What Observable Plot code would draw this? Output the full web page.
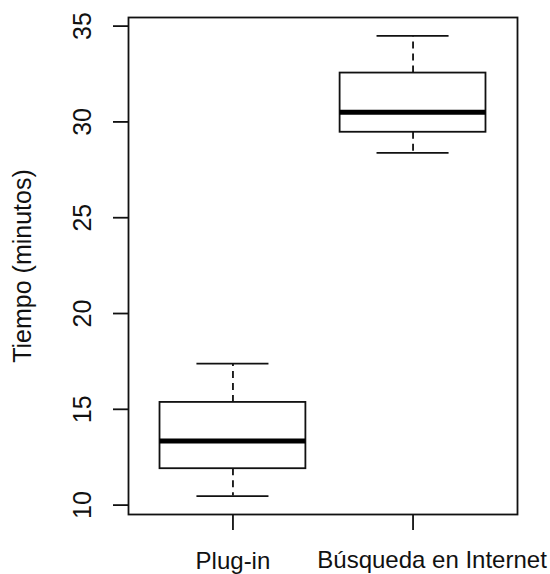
<!DOCTYPE html>
<html>
<head>
<meta charset="utf-8">
<script src="https://cdn.jsdelivr.net/npm/d3@7"></script>
<script src="https://cdn.jsdelivr.net/npm/@observablehq/plot@0.6"></script>
<style>
  html, body { margin: 0; padding: 0; background: #fff; }
  #chart svg { display: block; }
</style>
</head>
<body>
<div id="chart"></div>
<script>
// Data
const groups = ["Plug-in", "Búsqueda en Internet"];
const lowerWhisker = [10.47, 28.38];
const q1 = [11.9, 29.46];
const medians = [13.35, 30.51];
const q3 = [15.36, 32.55];
const upperWhisker = [17.38, 34.49];
const yTicks = [10, 15, 20, 25, 30, 35];
const yLabel = "Tiempo (minutos)";

const rows = groups.map((g, i) => ({
  name: g, pos: i + 1,
  lo: lowerWhisker[i], q1: q1[i], med: medians[i], q3: q3[i], hi: upperWhisker[i]
}));

const ink = "#111";
const font = "Liberation Sans, Arial, sans-serif";
const fsY = 25;
const fsX = 24;

const chart = Plot.plot({
  width: 550,
  height: 574,
  marginLeft: 128,
  marginRight: 33,
  marginTop: 17,
  marginBottom: 60,
  style: { fontFamily: font, fontSize: fsY + "px", color: ink, background: "#fff" },
  x: { domain: [0.42, 2.58], axis: null },
  y: { domain: [9.51, 35.45], axis: null },
  marks: [
    Plot.frame({ stroke: ink, strokeWidth: 1.8 }),
    // y axis ticks
    Plot.axisY({ ticks: yTicks, tickSize: 15, tickFormat: () => "", label: null, stroke: ink, strokeWidth: 1.8 }),
    Plot.text(yTicks, {
      y: d => d, text: d => String(d), frameAnchor: "left", dx: -46,
      rotate: -90, textAnchor: "middle", lineAnchor: "middle",
      fontSize: fsY, fill: ink
    }),
    Plot.text([yLabel], {
      text: d => d, frameAnchor: "left", dx: -106, rotate: -90,
      textAnchor: "middle", lineAnchor: "middle", fontSize: fsY, fill: ink
    }),
    // x axis ticks and labels
    Plot.axisX({ ticks: rows.map(r => r.pos), tickSize: 16, tickFormat: () => "", label: null, stroke: ink, strokeWidth: 1.8 }),
    Plot.text(rows.slice(0, 1), {
      x: "pos", text: "name", frameAnchor: "bottom", dy: 54,
      lineAnchor: "bottom", textAnchor: "middle", fontSize: fsX, fill: ink
    }),
    Plot.text(rows.slice(1), {
      x: "pos", text: "name", frameAnchor: "bottom", dy: 53, dx: 19,
      lineAnchor: "bottom", textAnchor: "middle", fontSize: fsX, fill: ink
    }),
    // whiskers (dashed)
    Plot.ruleX(rows, { x: "pos", y1: "q3", y2: "hi", stroke: ink, strokeWidth: 1.8, strokeDasharray: "7,5" }),
    Plot.ruleX(rows, { x: "pos", y1: "q1", y2: "lo", stroke: ink, strokeWidth: 1.8, strokeDasharray: "7,5" }),
    // whisker caps
    Plot.ruleY(rows, { y: "hi", x1: d => d.pos - 0.2, x2: d => d.pos + 0.2, stroke: ink, strokeWidth: 1.8 }),
    Plot.ruleY(rows, { y: "lo", x1: d => d.pos - 0.2, x2: d => d.pos + 0.2, stroke: ink, strokeWidth: 1.8 }),
    // boxes
    Plot.rect(rows, {
      x1: d => d.pos - 0.405, x2: d => d.pos + 0.405, y1: "q1", y2: "q3",
      fill: "white", stroke: ink, strokeWidth: 1.8
    }),
    // medians
    Plot.ruleY(rows, { y: "med", x1: d => d.pos - 0.405, x2: d => d.pos + 0.405, stroke: "#000", strokeWidth: 5 })
  ]
});

document.getElementById("chart").appendChild(chart);
</script>
</body>
</html>
